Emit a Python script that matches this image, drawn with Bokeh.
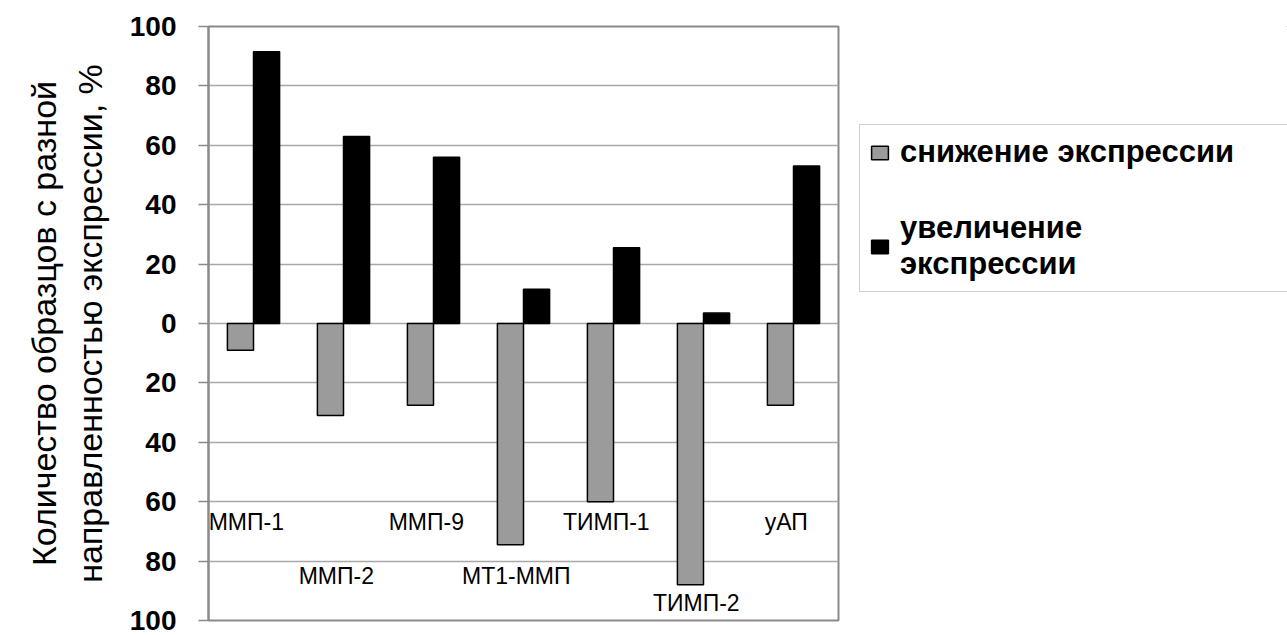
from bokeh.plotting import figure
from bokeh.layouts import row
from bokeh.models import (Range1d, FixedTicker, Legend, LegendItem, ColumnDataSource)
from bokeh.transform import dodge
from bokeh.core.properties import value
from bokeh.embed import file_html
from bokeh.resources import INLINE

# --- data -------------------------------------------------------------
categories = ["ММП-1", "ММП-2", "ММП-9", "МТ1-ММП", "ТИМП-1", "ТИМП-2", "уАП"]
decrease_pct = [9, 31, 27.5, 74.5, 60, 88, 27.5]      # снижение экспрессии
increase_pct = [91.5, 63, 56, 11.5, 25.5, 3.5, 53]    # увеличение экспрессии
tick_values = [-100, -80, -60, -40, -20, 0, 20, 40, 60, 80, 100]

FONT = "Liberation Sans"
GREY = "#9b9b9b"

src = ColumnDataSource(dict(
    cat=categories,
    down=[-v for v in decrease_pct],
    up=increase_pct,
))

p = figure(
    x_range=categories,
    y_range=Range1d(-100, 100),
    width=850, height=635,
    output_backend="svg", toolbar_location=None,
    x_axis_location=None,
    min_border_left=208, min_border_right=12,
    min_border_top=26, min_border_bottom=15,
)
p.x_range.range_padding = 0
p.background_fill_color = "white"
p.border_fill_color = "white"
p.outline_line_color = "#8a8a8a"
p.outline_line_width = 2

# grid
p.xgrid.visible = False
p.ygrid.grid_line_color = "#a8a8a8"
p.ygrid.grid_line_width = 1.5

# y axis: magnitudes shown on both sides of zero
ax = p.yaxis[0]
ax.ticker = FixedTicker(ticks=tick_values)
ax.major_label_overrides = {t: str(abs(t)) for t in tick_values}
ax.minor_tick_line_color = None
ax.major_tick_in = 0
ax.major_tick_out = 10
ax.major_tick_line_color = "#8a8a8a"
ax.major_tick_line_width = 1.5
ax.axis_line_color = "#8a8a8a"
ax.axis_line_width = 2
ax.major_label_text_font = FONT
ax.major_label_text_font_style = "bold"
ax.major_label_text_font_size = "28px"
ax.major_label_text_color = "black"
ax.major_label_standoff = 22
ax.axis_label = "Количество образцов с разной\nнаправленностью экспрессии, %"
ax.axis_label_text_font = FONT
ax.axis_label_text_font_style = "normal"
ax.axis_label_text_font_size = "34px"
ax.axis_label_text_color = "black"
ax.axis_label_standoff = 18

# bars
bar_w = 0.29
p.vbar(x=dodge("cat", -bar_w / 2, range=p.x_range), top="down", bottom=0,
       width=bar_w, source=src, fill_color=GREY,
       line_color="black", line_width=1.5)
p.vbar(x=dodge("cat", bar_w / 2, range=p.x_range), top="up", bottom=0,
       width=bar_w, source=src, fill_color="black",
       line_color="black", line_width=1.5)

# category captions, staggered inside the plot area
label_levels = [-67, -85, -67, -85, -67, -94, -67]
p.text(x=dodge("cat", -0.08, range=p.x_range), y="ly",
       text="cat",
       source=ColumnDataSource(dict(cat=categories, ly=label_levels)),
       text_font=value(FONT), text_font_size="23px", text_color="black",
       text_align="center", text_baseline="middle")

# legend panel to the right of the chart; its key glyphs come from
# proxy bars kept outside the visible area, styled like the real ones
leg_fig = figure(width=437, height=635, output_backend="svg",
                 toolbar_location=None, x_axis_location=None,
                 y_axis_location=None, x_range=(0, 1), y_range=(0, 1),
                 min_border=0)
leg_fig.grid.visible = False
leg_fig.outline_line_color = None
leg_fig.background_fill_color = "white"
leg_fig.border_fill_color = "white"
k_down = leg_fig.vbar(x=[5], top=[6], bottom=[5], width=0.5,
                      fill_color=GREY, line_color="black", line_width=1.5)
k_up = leg_fig.vbar(x=[5], top=[6], bottom=[5], width=0.5,
                    fill_color="black", line_color="black", line_width=1.5)

legend = Legend(
    items=[
        LegendItem(label="снижение экспрессии", renderers=[k_down]),
        LegendItem(label="увеличение\nэкспрессии", renderers=[k_up]),
    ],
    location=(9, 328),
    orientation="vertical",
    label_text_font=FONT,
    label_text_font_style="bold",
    label_text_font_size="31px",
    label_text_color="black",
    label_standoff=10,
    label_width=420,
    glyph_width=21,
    glyph_height=17,
    padding=9,
    spacing=40,
    margin=0,
    border_line_color="#a0a0a0",
    border_line_width=1.5,
    background_fill_color="white",
    background_fill_alpha=1.0,
)
leg_fig.add_layout(legend, "center")

layout = row(p, leg_fig, spacing=0)
open("out.html", "w").write(file_html(layout, INLINE))
